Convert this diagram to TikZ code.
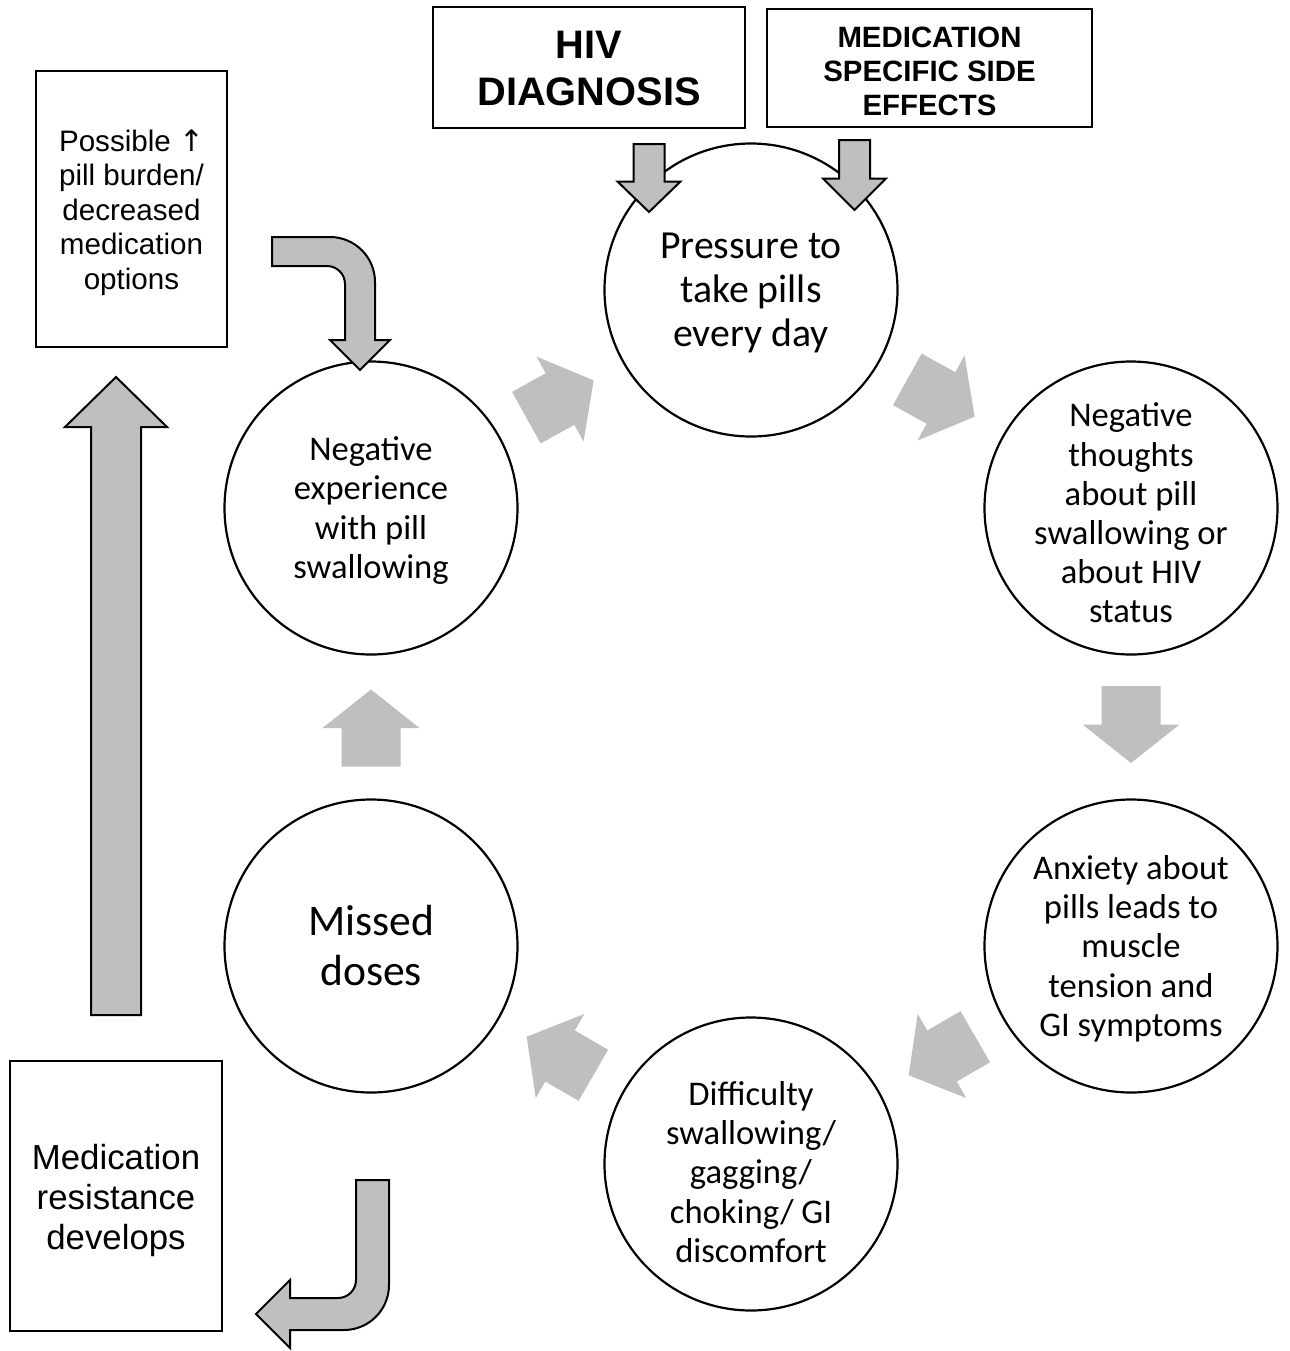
\documentclass[tikz,border=0pt]{standalone}
\usepackage{fontspec}
\setmainfont{Carlito}
\newfontfamily\arialfont{Liberation Sans}
\newfontfamily\djvfont{DejaVu Sans}
\definecolor{arrowgray}{HTML}{BFBFBF}
\newcommand\flowarrow[3]{\fill[flow, shift={(#1,#2)}, rotate=#3] (-38.5,-29.5) -- (0,-29.5) -- (0,-48.5) -- (38.5,0) -- (0,48.5) -- (0,29.5) -- (-38.5,29.5) -- cycle;}
\begin{document}
\begin{tikzpicture}[x=0.5pt,y=-0.5pt,
  circ/.style={circle, draw, line width=1.1pt, minimum size=146.5pt, inner sep=0pt},
  ctext/.style={inner sep=0pt, align=center, font=\fontsize{17.3pt}{19.6pt}\selectfont},
  box/.style={draw, line width=1pt, inner sep=0pt},
  btext/.style={inner sep=0pt, align=center},
  flow/.style={fill=arrowgray},
  bigarrow/.style={fill=arrowgray, draw=black, line width=1pt, line join=miter}]
\useasboundingbox (0,0) rectangle (1290,1351);
\fill[white] (0,0) rectangle (1290,1351);

% circles
\node[circ] (c1) at (751,290) {};
\node[circ] (c2) at (1131,508) {};
\node[circ] (c3) at (1131,946) {};
\node[circ] (c4) at (751,1164) {};
\node[circ] (c5) at (371,946) {};
\node[circ] (c6) at (371,508) {};
\node[ctext, font=\fontsize{19.9pt}{22pt}\selectfont] (t1) at ([yshift=-1.5pt]c1.center) {Pressure to\\take pills\\every day};
\node[ctext] (t2) at ([yshift=-2.5pt]c2.center) {Negative\\thoughts\\about pill\\swallowing or\\about HIV\\status};
\node[ctext] (t3) at ([yshift=-1.3pt]c3.center) {Anxiety about\\pills leads to\\muscle\\tension and\\GI symptoms};
\node[ctext] (t4) at ([yshift=-4pt]c4.center) {Difficulty\\swallowing/\\gagging/\\choking/ GI\\discomfort};
\node[ctext, font=\fontsize{21.8pt}{25pt}\selectfont] (t5) at (c5.center) {Missed\\doses};
\node[ctext] (t6) at ([yshift=-1.3pt]c6.center) {Negative\\experience\\with pill\\swallowing};

% boxes
\node[box, minimum width=156pt, minimum height=60.5pt] (b1) at (589,67.5) {};
\node[box, minimum width=162.5pt, minimum height=59pt] (b2) at (929.5,68) {};
\node[box, minimum width=95.5pt, minimum height=138pt] (b3) at (131.5,209) {};
\node[box, minimum width=106pt, minimum height=135pt] (b4) at (116,1196) {};
\node[btext, font=\arialfont\bfseries\fontsize{19.9pt}{23.5pt}\selectfont] (u1) at ([yshift=-0.5pt]b1.center) {HIV\\DIAGNOSIS};
\node[btext, font=\arialfont\bfseries\fontsize{14.7pt}{17pt}\selectfont] (u2) at ([yshift=-1.5pt]b2.center) {MEDICATION\\SPECIFIC SIDE\\EFFECTS};
\node[btext, font=\arialfont\fontsize{14.8pt}{17.25pt}\selectfont] (u3) at ([yshift=-1.8pt]b3.center) {Possible {\djvfont ↑}\\pill burden/\\decreased\\medication\\options};
\node[btext, font=\arialfont\fontsize{17.4pt}{20pt}\selectfont] (u4) at ([yshift=-2.2pt]b4.center) {Medication\\resistance\\develops};

% flow arrows between circles
\flowarrow{560}{399}{29}
\flowarrow{941}{398}{-29}
\flowarrow{1131}{724.5}{-90}
\flowarrow{942}{1056}{210}
\flowarrow{560}{1056}{150}
\flowarrow{371}{728}{90}

% outlined arrows
\draw[bigarrow] (633.5,144) -- (664.5,144) -- (664.5,181.5) -- (680.5,181.5) -- (649,212) -- (617.5,181.5) -- (633.5,181.5) -- cycle;
\draw[bigarrow] (839,140) -- (870,140) -- (870,178.5) -- (886,178.5) -- (854.5,210) -- (823,178.5) -- (839,178.5) -- cycle;
\draw[bigarrow] (91,1015) -- (141,1015) -- (141,427) -- (167,427) -- (116,377) -- (65,427) -- (91,427) -- cycle;
\draw[bigarrow] (272,237) -- (330,237) arc(-90:0:45) -- (375,340) -- (390,340) -- (360,370) -- (330,340) -- (345,340) -- (345,284) arc(0:-90:18) -- (272,266) -- cycle;
\draw[bigarrow] (356,1180) -- (389,1180) -- (389,1285) arc(0:90:45) -- (290,1330) -- (290,1348) -- (256,1314) -- (290,1280) -- (290,1298) -- (338,1298) arc(90:0:18) -- cycle;
\end{tikzpicture}
\end{document}
